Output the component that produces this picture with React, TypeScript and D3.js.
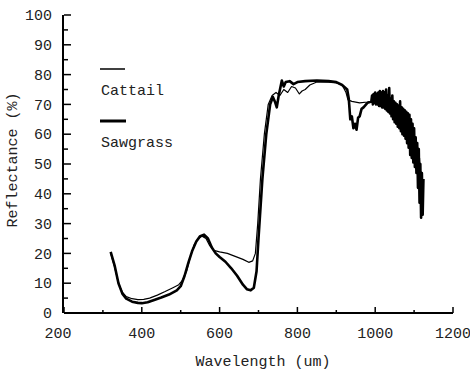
import React from "react";
import * as d3 from "d3";

const xTicks = [200, 400, 600, 800, 1000, 1200];
const yTicks = [0, 10, 20, 30, 40, 50, 60, 70, 80, 90, 100];
const seriesNames = ["Cattail", "Sawgrass"];

const cattail: [number, number][] = [
  [320, 20], [330, 15.5], [340, 10], [350, 7], [360, 5.5], [375, 4.8], [390, 4.5], [405, 4.6],
  [420, 5], [440, 6], [460, 7.2], [480, 8.5], [495, 9.5], [505, 11], [515, 14], [525, 19],
  [535, 23], [545, 25], [555, 25.8], [565, 25], [575, 22.5], [585, 21], [600, 20.5], [620, 20],
  [640, 19], [660, 18], [675, 17], [685, 17.5], [692, 20], [698, 30], [705, 45], [715, 60],
  [725, 70], [735, 73], [745, 74], [755, 73], [765, 75], [775, 74], [785, 76], [795, 75.5],
  [805, 73.5], [812, 74.5], [820, 75], [832, 76.5], [850, 77.5], [880, 77.5], [900, 77.2],
  [915, 76.5], [925, 74], [930, 71.5], [940, 71], [960, 70.5], [980, 70.8], [990, 71],
  [994, 72], [998, 70.5], [1002, 72.5], [1006, 70.5], [1010, 72.5], [1014, 70], [1018, 72.5],
  [1022, 70], [1026, 72], [1030, 69.5], [1034, 71.5], [1038, 69], [1042, 71], [1046, 67.5],
  [1050, 69.5], [1054, 66], [1058, 68.5], [1062, 65], [1066, 67.5], [1070, 63.5], [1074, 66],
  [1078, 62], [1082, 64.5], [1086, 60], [1090, 63], [1094, 57.5], [1098, 60], [1102, 54],
  [1106, 56.5], [1110, 49], [1114, 52], [1118, 42], [1122, 44],
];

const sawgrass: [number, number][] = [
  [320, 20.5], [330, 16], [340, 10], [350, 6.5], [360, 4.8], [375, 3.8], [390, 3.4], [400, 3.3],
  [415, 3.6], [430, 4.3], [450, 5.2], [470, 6.2], [490, 7.6], [500, 9], [510, 12.5], [520, 17],
  [530, 21], [540, 24], [550, 25.8], [560, 26.3], [570, 25], [580, 22], [590, 20], [600, 18.8],
  [615, 17.2], [630, 15], [645, 12.5], [660, 9.5], [670, 8], [680, 7.6], [688, 8.5], [695, 14],
  [700, 25], [710, 45], [720, 60], [730, 70], [737, 72.5], [742, 71], [747, 69], [752, 73],
  [760, 78], [765, 76], [770, 77.5], [780, 77.8], [790, 76.8], [800, 77.5], [820, 77.8],
  [850, 78], [880, 77.8], [900, 77.5], [915, 76.5], [928, 75], [932, 72], [936, 65], [940, 66],
  [944, 62], [948, 63.5], [952, 61.5], [956, 65.5], [960, 66], [965, 68.5], [970, 69],
  [980, 70.5], [990, 71], [992, 73], [994, 70], [996, 73.5], [998, 70.5], [1000, 74],
  [1002, 70], [1004, 73.5], [1006, 70], [1008, 74], [1010, 69.5], [1012, 74.5], [1014, 69.5],
  [1016, 74], [1018, 69], [1020, 74.5], [1022, 69], [1024, 74], [1026, 68.5], [1028, 75],
  [1030, 68], [1032, 73], [1034, 67.5], [1036, 75.5], [1038, 67], [1040, 72], [1042, 66],
  [1044, 73], [1046, 65], [1048, 71], [1050, 64], [1052, 70.5], [1054, 63.5], [1056, 70],
  [1058, 62.5], [1060, 69.5], [1062, 62], [1064, 71], [1066, 61], [1068, 69], [1070, 60],
  [1072, 68.5], [1074, 59.5], [1076, 68], [1078, 58.5], [1080, 67.5], [1082, 57], [1084, 67],
  [1086, 55.5], [1088, 66.5], [1090, 53], [1092, 65], [1094, 52], [1096, 63.5], [1098, 50.5],
  [1100, 62], [1102, 49], [1104, 59], [1106, 47], [1108, 57], [1110, 42], [1112, 55],
  [1114, 37], [1116, 50], [1118, 32], [1120, 47], [1122, 33], [1124, 45],
];

const W = 470;
const H = 370;
const FONT = "'Liberation Mono', 'DejaVu Sans Mono', monospace";

export default function App() {
  const x = d3.scaleLinear().domain([200, 1200]).range([64, 453]);
  const y = d3.scaleLinear().domain([0, 100]).range([313, 15]);
  const line = d3
    .line<[number, number]>()
    .x((d) => x(d[0]))
    .y((d) => y(d[1]));

  const yMinor = d3.range(0, 101, 5);
  const xMinor = d3.range(200, 1201, 100);

  return (
    <svg
      width={W}
      height={H}
      style={{ position: "fixed", left: 0, top: 0, background: "#fff" }}
      fontFamily={FONT}
    >
      <rect width={W} height={H} fill="#fff" />
      {/* axes */}
      <line x1={x(200)} x2={x(1200)} y1={y(0)} y2={y(0)} stroke="#000" strokeWidth={2} />
      <line x1={x(200) - 1} x2={x(200) - 1} y1={y(0)} y2={y(100)} stroke="#000" strokeWidth={2} />
      {yMinor.map((v) => (
        <line
          key={"yt" + v}
          x1={x(200)}
          x2={x(200) + (v % 10 === 0 ? 7 : 4)}
          y1={y(v)}
          y2={y(v)}
          stroke="#000"
          strokeWidth={1.5}
        />
      ))}
      {xMinor.map((v) => (
        <line
          key={"xt" + v}
          x1={x(v)}
          x2={x(v)}
          y1={y(0)}
          y2={y(0) - (v % 200 === 0 ? 6 : 3)}
          stroke="#000"
          strokeWidth={1.5}
        />
      ))}
      {yTicks.map((v) => (
        <text key={"yl" + v} x={52} y={y(v)} dy="0.35em" textAnchor="end" fontSize={15} fill="#222">
          {v}
        </text>
      ))}
      {xTicks.map((v) => (
        <text
          key={"xl" + v}
          x={x(v) + (v === 200 ? -6 : 0)}
          y={338}
          textAnchor="middle"
          fontSize={15}
          fill="#222"
        >
          {v}
        </text>
      ))}
      <text x={263} y={366} textAnchor="middle" fontSize={15} fill="#222">
        Wavelength (um)
      </text>
      <text
        transform={`translate(17,160) rotate(-90)`}
        textAnchor="middle"
        fontSize={15}
        fill="#222"
      >
        Reflectance (%)
      </text>
      {/* legend */}
      <line x1={100} x2={125} y1={69} y2={69} stroke="#000" strokeWidth={1.5} />
      <text x={101} y={95} fontSize={15} fill="#222">
        {seriesNames[0]}
      </text>
      <line x1={100} x2={126} y1={121} y2={121} stroke="#000" strokeWidth={3} />
      <text x={101} y={147} fontSize={15} fill="#222">
        {seriesNames[1]}
      </text>
      {/* curves */}
      <path d={line(cattail) ?? ""} fill="none" stroke="#000" strokeWidth={1.2} strokeLinejoin="round" />
      <path d={line(sawgrass) ?? ""} fill="none" stroke="#000" strokeWidth={2.6} strokeLinejoin="round" />
    </svg>
  );
}
